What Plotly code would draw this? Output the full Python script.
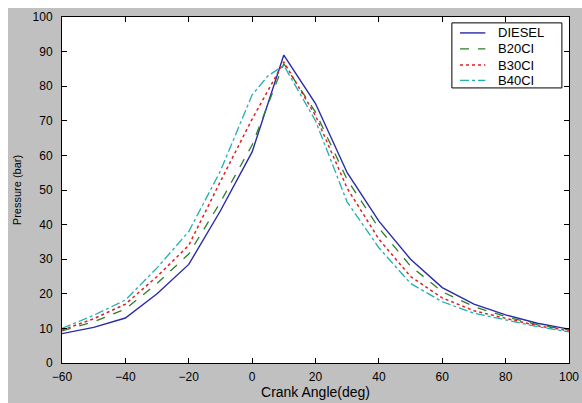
import plotly.graph_objects as go

crank_angle = [-60, -50, -40, -30, -20, -10, 0, 10, 20, 30, 40, 50, 60, 70, 80, 90, 100]

diesel = [8.5, 10.3, 13.0, 20.0, 28.5, 44.0, 61.0, 89.0, 75.0, 55.0, 41.0, 30.0, 21.8, 17.0, 13.9, 11.5, 9.8]
b20ci  = [9.3, 11.9, 15.6, 23.0, 31.5, 46.5, 63.0, 86.5, 72.5, 53.0, 39.0, 28.0, 20.6, 16.3, 13.4, 11.1, 9.5]
b30ci  = [9.5, 12.8, 17.0, 25.0, 34.0, 52.5, 70.5, 87.0, 71.5, 50.5, 35.8, 25.0, 18.8, 15.1, 12.9, 10.8, 9.3]
b40ci_x = [-60, -50, -40, -30, -20, -10, 0, 5, 10, 20, 30, 40, 50, 60, 70, 80, 90, 100]
b40ci  = [10.0, 13.8, 18.2, 27.5, 38.0, 55.5, 77.5, 83.0, 86.0, 70.0, 46.5, 33.3, 23.0, 17.7, 14.4, 12.4, 10.5, 9.0]

series_names = ["DIESEL", "B20CI", "B30CI", "B40CI"]
x_ticks = [-60, -40, -20, 0, 20, 40, 60, 80, 100]
y_ticks = [0, 10, 20, 30, 40, 50, 60, 70, 80, 90, 100]

FONT = "Liberation Sans, Arial, sans-serif"

styles = [
    dict(color="#2a2aa8", width=1.4, dash="solid"),
    dict(color="#2a802a", width=1.3, dash="dash"),
    dict(color="#e02020", width=1.5, dash="dot"),
    dict(color="#20b0b0", width=1.3, dash="dashdot"),
]
xs = [crank_angle, crank_angle, crank_angle, b40ci_x]
ys = [diesel, b20ci, b30ci, b40ci]

fig = go.Figure()
for name, x, y, st in zip(series_names, xs, ys, styles):
    fig.add_trace(go.Scatter(x=x, y=y, name=name, mode="lines", line=st, showlegend=False))

axis_common = dict(
    showgrid=False, zeroline=False, showline=True, linecolor="black", linewidth=1,
    mirror="ticks", ticks="inside", ticklen=5, tickcolor="black", tickwidth=1,
    tickfont=dict(family=FONT, size=12, color="black"),
    automargin=False,
)

# MATLAB-style legend box (compact rows), drawn in axis-domain coordinates.
shapes = [dict(type="rect", xref="x domain", yref="y domain",
               x0=0.769, x1=0.986, y0=0.795, y1=0.983,
               fillcolor="white", line=dict(color="black", width=1), layer="above")]
annotations = []
row_y = [0.954, 0.908, 0.861, 0.817]
for name, st, ry in zip(series_names, styles, row_y):
    shapes.append(dict(type="line", xref="x domain", yref="y domain",
                       x0=0.785, x1=0.835, y0=ry, y1=ry, layer="above",
                       line=dict(color=st["color"], width=st["width"], dash=st["dash"])))
    annotations.append(dict(text=name, xref="x domain", yref="y domain",
                            x=0.857, y=ry, xanchor="left", yanchor="middle",
                            showarrow=False,
                            font=dict(family=FONT, size=13, color="black")))

# The figure is 574x395, placed 8px from the top-left of the page (white strip like the reference).
fig.update_layout(
    width=574, height=395,
    margin=dict(l=54, r=13, t=9, b=40),
    paper_bgcolor="#c0c0c0", plot_bgcolor="white",
    font=dict(family=FONT, size=12, color="black"),
    showlegend=False,
    shapes=shapes,
    annotations=annotations,
    xaxis=dict(range=[-60, 100], tickvals=x_ticks, ticklabelstandoff=3,
               title=dict(text="Crank Angle(deg)", standoff=2,
                          font=dict(family=FONT, size=14, color="black")),
               **axis_common),
    yaxis=dict(range=[0, 100], tickvals=y_ticks, ticklabelstandoff=6,
               title=dict(text="Pressure (bar)", standoff=8,
                          font=dict(family=FONT, size=11, color="black")),
               **axis_common),
)

fig.write_html(
    "out.html",
    post_script=(
        "document.body.style.margin='8px 0 0 8px';"
        "document.body.style.overflow='hidden';"
        "document.documentElement.style.overflow='hidden';"
    ),
)
